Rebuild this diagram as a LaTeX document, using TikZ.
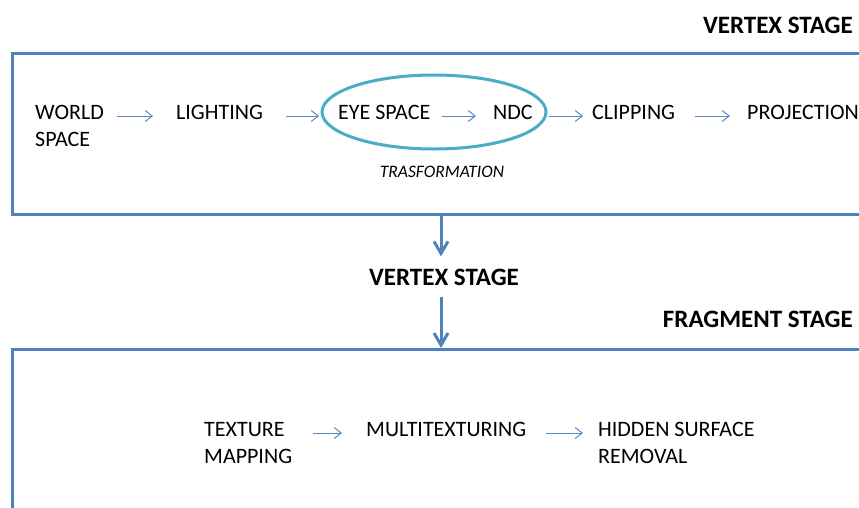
\documentclass[tikz,border=0pt]{standalone}
\usepackage{fontspec}
\setmainfont{Carlito}
\usetikzlibrary{shapes,arrows.meta,positioning}
\definecolor{boxblue}{HTML}{4F81BD}
\definecolor{ringblue}{HTML}{4BACC6}
\definecolor{flowblue}{HTML}{5A88C6}

\begin{document}
\begin{tikzpicture}[x=1pt,y=-1pt,
  lbl/.style={inner sep=0,anchor=north west,align=left,font=\fontsize{22}{27}\selectfont},
  head/.style={inner sep=0,anchor=base east,font=\fontsize{25}{30}\selectfont\bfseries},
  flow/.style={draw=flowblue,line width=1pt,-{Straight Barb[length=7pt,width=11pt]}},
  down/.style={draw=boxblue,line width=3pt,-{Straight Barb[length=12pt,width=14pt]}},
  stagebox/.style={draw=boxblue,line width=3pt,rectangle,anchor=north west,inner sep=0}]
\useasboundingbox (0,0) rectangle (859,507);
\clip (0,0) rectangle (859,507);

% the two stage boxes (cut by the page edge)
\node[stagebox,minimum width=880pt,minimum height=161pt] (vbox) at (11,52) {};
\node[stagebox,minimum width=880pt,minimum height=200pt] (fbox) at (11,348) {};
\node[head] (vtitle) at (853,33) {VERTEX STAGE};
\node[head] (ftitle) at (853,327) {FRAGMENT STAGE};

% vertex stage
\node[lbl] (world) at (35,105) {WORLD\\SPACE};
\node[lbl] (light) at (176,105) {LIGHTING};
\node[draw=ringblue,line width=3pt,ellipse,minimum width=224pt,minimum height=74pt] (trans) at (434,112) {};
\node[lbl] (eye) at (338,105) {EYE SPACE};
\node[lbl] (ndc) at (493,105) {NDC};
\node[lbl] (clip) at (592,105) {CLIPPING};
\node[lbl] (proj) at (747,105) {PROJECTION};
\node[inner sep=0,anchor=base,font=\fontsize{17.5}{21}\selectfont\itshape] (tlabel) at (442,177) {TRASFORMATION};

\draw[flow] ([shift={(13,11)}]world.north east) -- ([shift={(-23,11)}]light.north west);
\draw[flow,shorten >=1.5pt] ([shift={(23,11)}]light.north east) -- ([yshift=-11pt]light.north -| trans.west);
\draw[flow] ([shift={(12,11)}]eye.north east) -- ([shift={(-17,11)}]ndc.north west);
\draw[flow,shorten <=1.5pt] ([yshift=-11pt]clip.north -| trans.east) -- ([shift={(-9,11)}]clip.north west);
\draw[flow] ([shift={(20,11)}]clip.north east) -- ([shift={(-17,11)}]proj.north west);

% between the stages
\node[head,anchor=base] (vstage) at (444,285) {VERTEX STAGE};
\draw[down] ([xshift=-3pt]vbox.south -| vstage) -- ([shift={(-3,-12)}]vstage.north);
\draw[down] ([shift={(-3,12)}]vstage.south) -- ([xshift=-3pt]vstage |- fbox.north);

% fragment stage
\node[lbl] (tex) at (204,422) {TEXTURE\\MAPPING};
\node[lbl] (multi) at (366,422) {MULTITEXTURING};
\node[lbl] (hsr) at (598,422) {HIDDEN SURFACE\\REMOVAL};

\draw[flow] ([shift={(21,11)}]tex.north east) -- ([shift={(-24,11)}]multi.north west);
\draw[flow] ([shift={(19,11)}]multi.north east) -- ([shift={(-15,11)}]hsr.north west);
\end{tikzpicture}
\end{document}
